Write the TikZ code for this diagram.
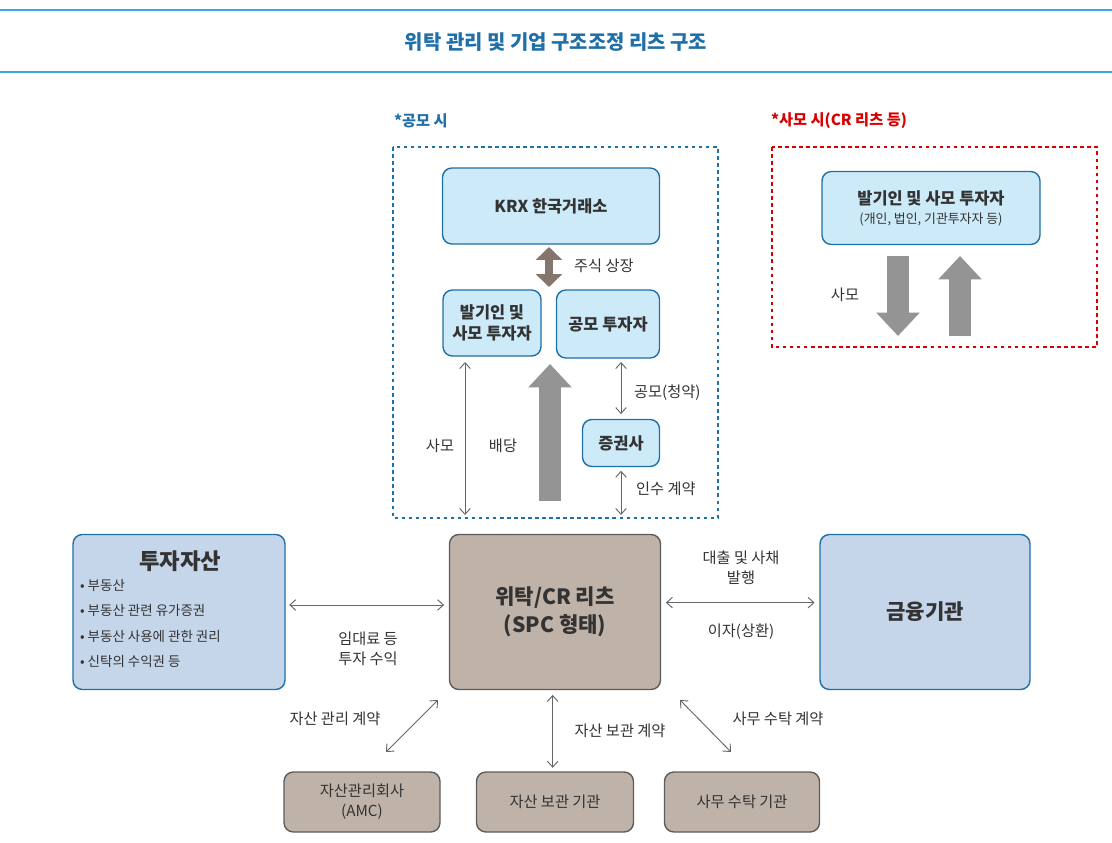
\documentclass[tikz,border=0pt]{standalone}
\usepackage{fontspec}
\setmainfont{Noto Sans CJK KR}
\usetikzlibrary{arrows.meta}

\definecolor{titleblue}{HTML}{1F6FA8}
\definecolor{lineblue}{HTML}{3AA8E0}
\definecolor{boxblue}{HTML}{CDEAF8}
\definecolor{assetblue}{HTML}{C5D5EA}
\definecolor{reitbrown}{HTML}{BFB2A8}
\definecolor{arrowbrown}{HTML}{85766D}
\definecolor{txt}{HTML}{333333}

\tikzset{
  sz/.style 2 args={minimum width={#1*0.03cm}, minimum height={#2*0.03cm}, inner sep=0pt},
  topbox/.style={draw=titleblue, line width=1.2pt, fill=boxblue, rounded corners=8pt,
    text=txt, font=\bfseries\fontsize{14}{18}\selectfont, align=center},
  bigbox/.style={draw=titleblue, line width=1.2pt, fill=assetblue, rounded corners=8pt, text=txt},
  brownbox/.style={draw=txt!80, line width=1.2pt, fill=reitbrown, rounded corners=8pt,
    text=txt, align=center, font=\fontsize{13}{17}\selectfont},
  lbl/.style={text=txt, font=\fontsize{13}{17}\selectfont, align=center},
  thin/.style={{Straight Barb[length=5pt,width=9pt]}-{Straight Barb[length=5pt,width=9pt]}, draw=txt!75, line width=0.8pt},
  fatarrow/.style={-{Triangle[length=20pt,width=36pt]}, draw=black!42, line width=19pt},
}

\begin{document}
\begin{tikzpicture}[x=0.03cm, y=-0.03cm]
\useasboundingbox (0,0) rectangle (1112,843);

% title
\draw[lineblue, line width=1.5pt] (0,10) -- (1112,10);
\draw[lineblue, line width=1.5pt] (0,72) -- (1112,72);
\node[text=titleblue, font=\bfseries\fontsize{17}{20}\selectfont] (title) at (556,42) {위탁 관리 및 기업 구조조정 리츠 구조};

% public offering
\node[anchor=west, text=titleblue, font=\bfseries\fontsize{13}{16}\selectfont] (pubtag) at (390,121) {*공모 시};
\draw[titleblue, dashed, line width=1.2pt] (393,147) rectangle (718,518);
\node[topbox, sz={217}{76}] (krx) at (551,206) {KRX 한국거래소};
\node[topbox, sz={98}{66}] (founder) at (492,323) {발기인 및\\사모 투자자};
\node[topbox, sz={103}{68}] (pubinv) at (608,324) {공모 투자자};
\node[topbox, sz={77}{47}] (broker) at (621,443) {증권사};

\draw[arrowbrown, line width=6pt, {Triangle[length=11pt,width=22pt]}-{Triangle[length=11pt,width=22pt]}] (549,247) -- (549,287);
\node[lbl, anchor=west] (listing) at (570,266) {주식 상장};

\coordinate (pubtop) at (465,362);
\coordinate (pubbot) at (465,515);
\draw[thin] (pubtop) -- (pubbot);
\node[lbl] (samo1) at (440,446) {사모};
\node[lbl] (div) at (503,446) {배당};
\coordinate (divfrom) at (550,501);
\coordinate (divto) at (550,364);
\draw[fatarrow] (divfrom) -- (divto);
\coordinate (subtop) at (621,362);
\draw[thin] (subtop) -- ([yshift=4pt]broker.north);
\node[lbl, anchor=west] (sub) at (630,393) {공모(청약)};
\coordinate (brokerbot) at (621,515);
\draw[thin] ([yshift=-3pt]broker.south) -- (brokerbot);
\node[lbl, anchor=west] (uw) at (632,489) {인수 계약};

% private offering
\node[anchor=west, text=red!85!black, font=\bfseries\fontsize{13}{16}\selectfont] (privtag) at (767,121) {*사모 시(CR 리츠 등)};
\draw[red!85!black, dashed, line width=1.2pt] (772,147) rectangle (1097,347);
\node[topbox, sz={218}{73}] (privinv) at (931,208) {{\bfseries\fontsize{14}{18}\selectfont 발기인 및 사모 투자자}\\[-2pt]{\mdseries\fontsize{11}{14}\selectfont (개인, 법인, 기관투자자 등)}};
\coordinate (down1) at (898,256);
\coordinate (down2) at (898,336);
\draw[fatarrow] (down1) -- (down2);
\coordinate (up1) at (960,336);
\coordinate (up2) at (960,256);
\draw[fatarrow] (up1) -- (up2);
\node[lbl] (samo2) at (845,295) {사모};

% main row
\node[bigbox, sz={212}{155}] (asset) at (179,612) {};
\node[text=txt, font=\bfseries\fontsize{19}{22}\selectfont] (assettitle) at (180,561) {투자자산};
\node[text=txt, anchor=north west, align=left, font=\fontsize{11.5}{21.8}\selectfont] (assetlist) at (76,575)
  {• 부동산\\• 부동산 관련 유가증권\\• 부동산 사용에 관한 권리\\• 신탁의 수익권 등};
\node[brownbox, sz={211}{155}, font=\bfseries\fontsize{18}{24}\selectfont] (reit) at (555,612) {위탁/CR 리츠\\(SPC 형태)};
\node[bigbox, sz={210}{155}, font=\bfseries\fontsize{18}{22}\selectfont] (bank) at (925,612) {금융기관};

\draw[thin] ([xshift=3pt,yshift=6pt]asset.east) -- ([xshift=-4pt,yshift=6pt]reit.west);
\node[lbl] (rent) at (368,649) {임대료 등\\투자 수익};
\draw[thin] ([xshift=4pt,yshift=8pt]reit.east) -- ([xshift=-4pt,yshift=8pt]bank.west);
\node[lbl] (loan) at (741,568) {대출 및 사채\\발행};
\node[lbl] (interest) at (741,632) {이자(상환)};

% bottom row
\node[brownbox, sz={156}{60}] (amc) at (362,802) {자산관리회사\\(AMC)};
\node[brownbox, sz={157}{60}] (custody) at (555,802) {자산 보관 기관};
\node[brownbox, sz={155}{60}] (admin) at (742,802) {사무 수탁 기관};

\coordinate (amcc1) at (438,700);
\coordinate (amcc2) at (386,752);
\draw[thin] (amcc1) -- (amcc2);
\node[lbl] (amcc) at (335,719) {자산 관리 계약};
\draw[thin] ([xshift=-2pt,yshift=-4pt]reit.south) -- ([xshift=-2pt,yshift=3pt]custody.north);
\node[lbl] (custc) at (620,731) {자산 보관 계약};
\coordinate (admc1) at (680,700);
\coordinate (admc2) at (731,752);
\draw[thin] (admc1) -- (admc2);
\node[lbl] (admc) at (778,719) {사무 수탁 계약};
\end{tikzpicture}
\end{document}
